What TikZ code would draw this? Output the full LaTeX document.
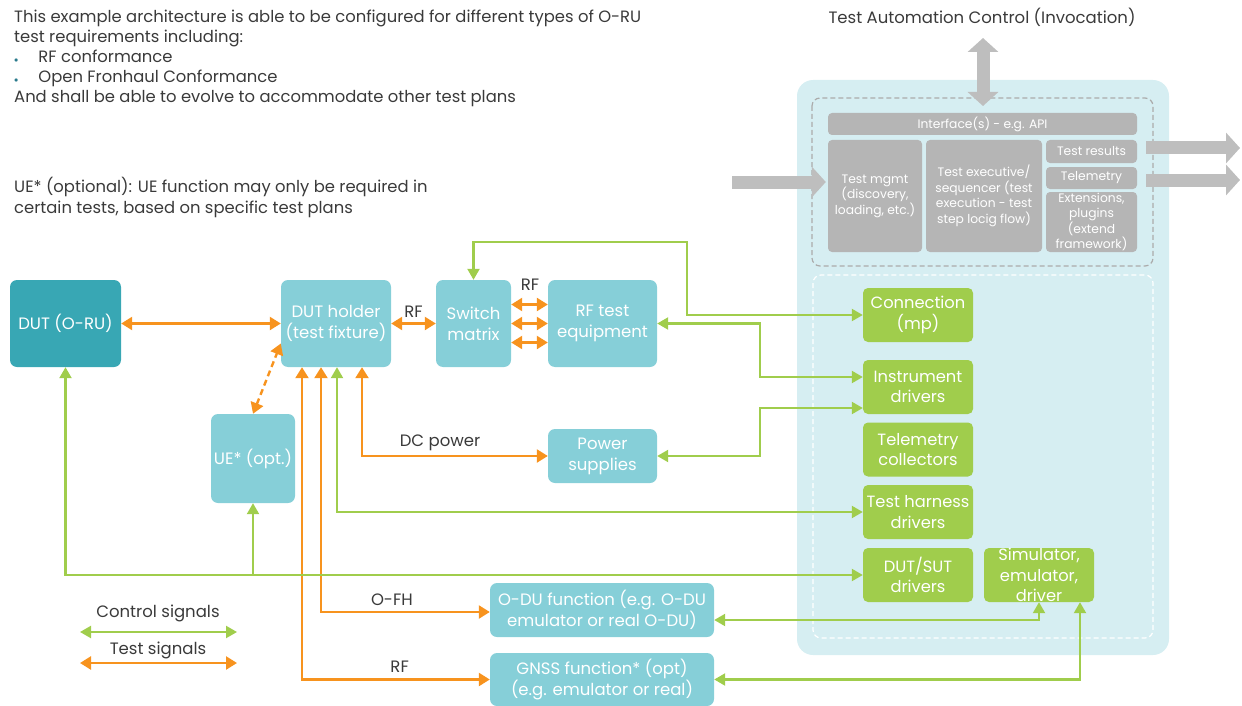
\documentclass[tikz,border=0pt]{standalone}
\usepackage{fontspec}
\setmainfont{Poppins}
\usetikzlibrary{arrows.meta}
\definecolor{testorange}{HTML}{F7931E}
\definecolor{ctrlgreen}{HTML}{A0CD4C}
\definecolor{boxteal}{HTML}{86CFD8}
\definecolor{dutteal}{HTML}{38A7B4}
\definecolor{panelblue}{HTML}{D6EEF2}
\definecolor{mgmtgray}{HTML}{B5B5B5}
\definecolor{arrowgray}{HTML}{BEBEBE}
\definecolor{textgray}{HTML}{3A3A3A}
\definecolor{bulletblue}{HTML}{2A7A8C}
\newcommand{\notebullet}{\textcolor{bulletblue}{\footnotesize$\bullet$}\hspace{20pt}}
\begin{document}
\begin{tikzpicture}[x=1pt,y=-1pt,
  every node/.style={text=textgray},
  tealbox/.style={fill=boxteal,rounded corners=7pt,align=center,inner sep=0pt,text=white,font=\fontsize{16.5}{21}\selectfont},
  ctrlbox/.style={fill=ctrlgreen,rounded corners=5pt,align=center,inner sep=0pt,text=white,minimum width=110pt,minimum height=54pt,font=\fontsize{16.3}{20.5}\selectfont},
  graybox/.style={fill=mgmtgray,rounded corners=4pt,align=center,inner sep=0pt,text=white,font=\fontsize{12.3}{15.5}\selectfont},
  test/.style={testorange,line width=2.4pt,{Triangle[length=11pt,width=13pt]}-{Triangle[length=11pt,width=13pt]}},
  ctrl/.style={ctrlgreen,line width=2.2pt,{Triangle[length=11pt,width=12pt]}-{Triangle[length=11pt,width=12pt]}},
  bigarrow/.style={arrowgray,line width=13pt,-{Triangle[length=14pt,width=30pt]}},
  lbl/.style={font=\fontsize{16.5}{20}\selectfont}]
\useasboundingbox (0,0) rectangle (1242,706);

% notes
\node[anchor=north west,align=left,inner sep=0pt,font=\fontsize{16.4}{20}\selectfont] (notes) at (14,10)
  {This example architecture is able to be configured for different types of O-RU\\
   test requirements including:\\
   \notebullet RF conformance\\
   \notebullet Open Fronhaul Conformance\\
   And shall be able to evolve to accommodate other test plans};
\node[anchor=north west,align=left,inner sep=0pt,font=\fontsize{16.4}{21}\selectfont] (uenote) at (14,177)
  {UE* (optional): UE function may only be required in\\
   certain tests, based on specific test plans};

% test framework panel
\node[lbl] (tac) at (982,17) {Test Automation Control (Invocation)};
\fill[panelblue,rounded corners=16pt] (797,80) rectangle (1169,655);
\draw[arrowgray!90!black,line width=1.2pt,dash pattern=on 5pt off 3pt,rounded corners=8pt] (812,98) rectangle (1153,266);
\draw[white,line width=1.2pt,dash pattern=on 5pt off 3pt,rounded corners=8pt] (813,275) rectangle (1153,638);

\node[graybox,minimum width=309pt,minimum height=22pt] (iface) at (982.5,124) {Interface(s) - e.g. API};
\node[graybox,minimum width=94pt,minimum height=112pt] (mgmt) at (875,196) {Test mgmt\\(discovery,\\loading, etc.)};
\node[graybox,minimum width=116pt,minimum height=112pt] (exec) at (984,196) {Test executive/\\sequencer (test\\execution - test\\step locig flow)};
\node[graybox,minimum width=91pt,minimum height=23pt] (results) at (1091.5,151.5) {Test results};
\node[graybox,minimum width=91pt,minimum height=22pt] (telem) at (1091.5,178) {Telemetry};
\node[graybox,minimum width=91pt,minimum height=60pt] (ext) at (1091.5,222) {Extensions,\\plugins\\(extend\\framework)};

\coordinate (apitop) at (983,38);
\coordinate (apibot) at (983,106);
\coordinate (inlet) at (732,182);
\coordinate (out1) at (1240,148);
\coordinate (out2) at (1240,180);
\draw[bigarrow,{Triangle[length=14pt,width=30pt]}-{Triangle[length=14pt,width=30pt]}] (apibot) -- (apitop);
\draw[bigarrow] (inlet) -- ([xshift=-2pt]mgmt.west |- inlet);
\draw[bigarrow] ([xshift=9pt]results.east |- out1) -- (out1);
\draw[bigarrow] ([xshift=9pt]telem.east |- out2) -- (out2);

\node[ctrlbox] (conn) at (918,315) {Connection\\(mp)};
\node[ctrlbox] (instr) at (918,387) {Instrument\\drivers};
\node[ctrlbox] (telcol) at (918,449.5) {Telemetry\\collectors};
\node[ctrlbox] (harness) at (918,512) {Test harness\\drivers};
\node[ctrlbox] (dutsut) at (918,575) {DUT/SUT\\drivers};
\node[ctrlbox] (sim) at (1039,575) {Simulator,\\emulator,\\driver};

% test setup
\node[tealbox,fill=dutteal,minimum width=111pt,minimum height=87pt] (dut) at (65.5,323.5) {DUT (O-RU)};
\node[tealbox,minimum width=110pt,minimum height=87pt] (holder) at (336,323.5) {DUT holder\\(test fixture)};
\node[tealbox,minimum width=75pt,minimum height=87pt] (switch) at (473.5,323.5) {Switch\\matrix};
\node[tealbox,minimum width=109pt,minimum height=87pt] (rftest) at (602.5,323.5) {RF test\\equipment};
\node[tealbox,minimum width=84pt,minimum height=89pt] (ue) at (253,458.5) {UE* (opt.)};
\node[tealbox,minimum width=109pt,minimum height=54pt] (power) at (602.5,456) {Power\\supplies};
\node[tealbox,minimum width=224pt,minimum height=54pt] (odu) at (602,610) {O-DU function (e.g. O-DU\\emulator or real O-DU)};
\node[tealbox,minimum width=224pt,minimum height=53pt] (gnss) at (602,679.5) {GNSS function* (opt)\\(e.g. emulator or real)};

% test signals
\draw[test] (dut.east) -- (holder.west);
\draw[test] (holder.east) -- (switch.west) node[lbl,midway,above=1pt] {RF};
\foreach \dy in {19,0,-19}
  \draw[test] ([yshift=\dy pt]switch.east) -- ([yshift=\dy pt]rftest.west);
\node[lbl] (rflbl) at (530,285) {RF};
\draw[test,dash pattern=on 6pt off 4pt] (ue.north) -- ([yshift=-20pt]holder.west);
\draw[test] ([xshift=26pt]holder.south) |- (power.west) node[lbl,pos=0.71,above=1pt] {DC power};
\draw[test] ([xshift=-15pt]holder.south) |- ([yshift=-2pt]odu.west) node[lbl,pos=0.71,above=2pt] {O-FH};
\draw[test] ([xshift=-34pt]holder.south) |- (gnss.west) node[lbl,pos=0.76,above=2pt] {RF};

% control signals
\coordinate (swbend) at (687,242);
\coordinate (instbend) at (760,0);
\draw[ctrl] (switch.north) |- (swbend) |- (conn.west);
\draw[ctrl] (rftest.east) -- (rftest.east -| instbend) |- ([yshift=10pt]instr.west);
\draw[ctrl] (power.east) -- (power.east -| instbend) |- ([yshift=-21pt]instr.west);
\draw[ctrl] ([xshift=1pt]holder.south) |- (harness.west);
\draw[ctrl] (dut.south) |- (dutsut.west);
\draw[ctrl,{Triangle[length=11pt,width=12pt]}-] (ue.south) -- (ue.south |- dutsut.west);
\draw[ctrl] ([yshift=-10pt]odu.east) -| (sim.south);
\draw[ctrl] (gnss.east) -| ([xshift=41pt]sim.south);

% legend
\node[lbl] (ctrllbl) at (158,613) {Control signals};
\node[lbl] (testlbl) at (158,650) {Test signals};
\coordinate (ctrlA) at (80,632);
\coordinate (ctrlB) at (237,632);
\coordinate (testA) at (80,663);
\coordinate (testB) at (237,663);
\draw[ctrl] (ctrlA) -- (ctrlB);
\draw[test] (testA) -- (testB);
\end{tikzpicture}
\end{document}
